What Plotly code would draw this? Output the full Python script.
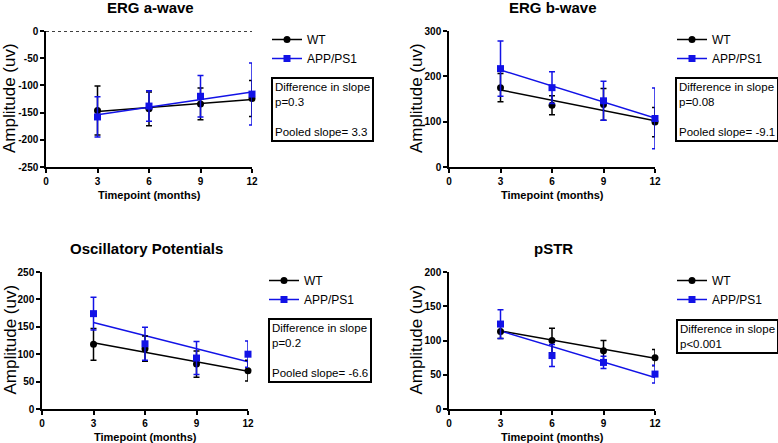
import plotly.graph_objects as go

W, H = 778, 443
FONT = "Liberation Sans, Arial, sans-serif"
BLACK = "#000000"
BLUE = "#1212e6"

months = [3, 6, 9, 12]
fit_x = [3, 12]
x_ticks = [0, 3, 6, 9, 12]

panel_titles = ["ERG a-wave", "ERG b-wave", "Oscillatory Potentials", "pSTR"]

# group means and error bars
wt_mean = [
    [-146, -143, -134, -124],
    [175, 136, 138, 99],
    [118, 110, 82, 70],
    [113, 100, 85, 75],
]
wt_err = [
    [45, 31, 29, 33],
    [31, 21, 35, 32],
    [29, 23, 24, 19],
    [10, 18, 15, 12],
]
app_mean = [
    [-158, -138, -120, -116],
    [217, 175, 146, 107],
    [174, 119, 93, 100],
    [124, 78, 68, 51],
]
app_err = [
    [37, 28, 38, 57],
    [61, 35, 43, 67],
    [30, 30, 30, 24],
    [21, 16, 9, 13],
]

# regression lines (values at 3 and 12 months)
wt_fit = [[-148, -126], [170, 102], [121, 69], [114, 74]]
app_fit = [[-154, -112], [214, 108], [158, 86], [114, 46]]

y_ranges = [[-250, 0], [0, 300], [0, 250], [0, 200]]
y_ticks = [
    [0, -50, -100, -150, -200, -250],
    [0, 100, 200, 300],
    [0, 50, 100, 150, 200, 250],
    [0, 50, 100, 150, 200],
]

stats_text = [
    "Difference in slope<br>p=0.3<br><br>Pooled slope= 3.3",
    "Difference in slope<br>p=0.08<br><br>Pooled slope= -9.1",
    "Difference in slope<br>p=0.2<br><br>Pooled slope= -6.6",
    "Difference in slope<br>p<0.001",
]

# plot areas in pixels: left, right, top, bottom
boxes = [(46, 252, 31, 167), (449, 655, 31, 167), (42, 248, 272, 409), (449, 655, 272, 409)]
legend_pos = [(267, 25), (672, 25), (264, 266), (672, 266)]
stats_pos = [(271, 77), (675, 77), (268, 318), (676, 319)]
ytitle_off = [37, 33, 32, 33]


def px(v):
    return v / W


def py(v):
    return 1 - v / H


fig = go.Figure()
annotations = []
layout = {}

for i in range(4):
    n = "" if i == 0 else str(i + 1)
    xa, ya = "x" + n, "y" + n
    leg = "legend" + n
    l, r, t, b = boxes[i]

    fig.add_trace(go.Scatter(x=fit_x, y=wt_fit[i], mode="lines", xaxis=xa, yaxis=ya,
                             line=dict(color=BLACK, width=1.5), showlegend=False, hoverinfo="skip"))
    fig.add_trace(go.Scatter(x=fit_x, y=app_fit[i], mode="lines", xaxis=xa, yaxis=ya,
                             line=dict(color=BLUE, width=1.5), showlegend=False, hoverinfo="skip"))
    fig.add_trace(go.Scatter(x=months, y=wt_mean[i], mode="markers", xaxis=xa, yaxis=ya,
                             marker=dict(symbol="circle", size=7, color=BLACK),
                             error_y=dict(type="data", array=wt_err[i], width=3, thickness=1.5, color=BLACK),
                             cliponaxis=False, showlegend=False))
    fig.add_trace(go.Scatter(x=months, y=app_mean[i], mode="markers", xaxis=xa, yaxis=ya,
                             marker=dict(symbol="square", size=7, color=BLUE),
                             error_y=dict(type="data", array=app_err[i], width=3, thickness=1.5, color=BLUE),
                             cliponaxis=False, showlegend=False))
    # legend entries
    fig.add_trace(go.Scatter(x=[None], y=[None], mode="lines+markers", name="WT", xaxis=xa, yaxis=ya,
                             line=dict(color=BLACK, width=1.5), marker=dict(symbol="circle", size=7, color=BLACK),
                             legend=leg))
    fig.add_trace(go.Scatter(x=[None], y=[None], mode="lines+markers", name="APP/PS1", xaxis=xa, yaxis=ya,
                             line=dict(color=BLUE, width=1.5), marker=dict(symbol="square", size=7, color=BLUE),
                             legend=leg))

    layout["xaxis" + n] = dict(
        domain=[px(l), px(r)], anchor=ya, range=[0, 12], tickvals=x_ticks,
        showline=True, linecolor=BLACK, linewidth=1.5, ticks="outside", ticklen=4, tickwidth=1.5,
        tickcolor=BLACK, showgrid=False, zeroline=False, automargin=False,
        tickfont=dict(family=FONT, size=10, color=BLACK, weight="bold"),
    )
    layout["yaxis" + n] = dict(
        domain=[py(b), py(t)], anchor=xa, range=y_ranges[i], tickvals=y_ticks[i],
        ticktext=[str(v) for v in y_ticks[i]],
        showline=True, linecolor=BLACK, linewidth=1.5, ticks="outside", ticklen=4, tickwidth=1.5,
        tickcolor=BLACK, showgrid=False, zeroline=False, automargin=False,
        tickfont=dict(family=FONT, size=10, color=BLACK, weight="bold"),
    )
    lx, ly = legend_pos[i]
    layout[leg] = dict(x=px(lx), y=py(ly), xanchor="left", yanchor="top", bgcolor="rgba(0,0,0,0)",
                       font=dict(family=FONT, size=12, color=BLACK), tracegroupgap=0, itemwidth=30)

    # panel title, axis titles
    cx = (l + r) / 2
    annotations.append(dict(text="<b>" + panel_titles[i] + "</b>", x=px(cx + 1), y=py(t - 23),
                            xref="paper", yref="paper", xanchor="center", yanchor="middle",
                            showarrow=False, font=dict(family=FONT, size=15, color=BLACK)))
    annotations.append(dict(text="<b>Timepoint (months)</b>", x=px(cx), y=py(b + 28), xref="paper",
                            yref="paper", xanchor="center", yanchor="middle",
                            showarrow=False, font=dict(family=FONT, size=11, color=BLACK)))
    annotations.append(dict(text="Amplitude (uv)", x=px(l - ytitle_off[i]), y=py((t + b) / 2 - 1),
                            xref="paper", yref="paper", xanchor="center", yanchor="middle",
                            showarrow=False, textangle=-90, font=dict(family=FONT, size=17, color=BLACK)))
    sx, sy = stats_pos[i]
    annotations.append(dict(text=stats_text[i], x=px(sx), y=py(sy), xref="paper", yref="paper",
                            xanchor="left", yanchor="top", align="left", showarrow=False,
                            bordercolor=BLACK, borderwidth=2, borderpad=2,
                            font=dict(family=FONT, size=11.5, color=BLACK)))

fig.update_layout(**layout)

# dotted zero line in the a-wave panel
fig.add_shape(type="line", xref="x domain", yref="y", x0=0, x1=1, y0=0, y1=0,
              line=dict(color=BLACK, width=1.5, dash="dot"))

fig.update_layout(
    width=W, height=H, margin=dict(l=0, r=0, t=0, b=0, autoexpand=False),
    plot_bgcolor="white", paper_bgcolor="white",
    annotations=annotations,
    font=dict(family=FONT, color=BLACK),
)

fig.write_html("out.html", config={"displayModeBar": False},
               post_script="document.body.style.margin='0';")
